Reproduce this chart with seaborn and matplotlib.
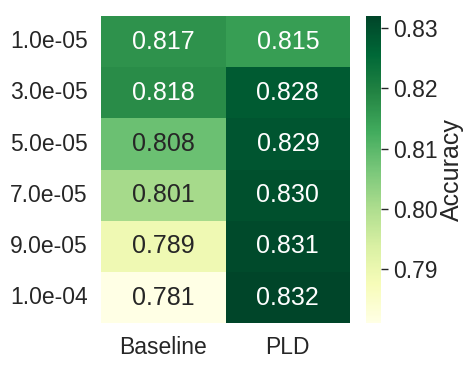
import numpy as np
import pandas as pd
import matplotlib
matplotlib.use("Agg")
import matplotlib.pyplot as plt
import seaborn as sns

learning_rates = ["1.0e-05", "3.0e-05", "5.0e-05", "7.0e-05", "9.0e-05", "1.0e-04"]
methods = ["Baseline", "PLD"]
baseline = [0.817, 0.818, 0.808, 0.801, 0.789, 0.781]
pld = [0.815, 0.828, 0.829, 0.830, 0.831, 0.832]

df = pd.DataFrame({"Baseline": baseline, "PLD": pld}, index=learning_rates)

sns.set_theme(style="white", font_scale=1.5)
plt.rcParams['font.family'] = ['Liberation Sans', 'DejaVu Sans']

fig = plt.figure(figsize=(4.77, 3.66), dpi=100)
ax = fig.add_axes([0.212, 0.117, 0.522, 0.839])
cax = fig.add_axes([0.767, 0.117, 0.032, 0.839])
sns.heatmap(df, annot=True, fmt=".3f", cmap="YlGn", ax=ax, cbar_ax=cax,
            cbar_kws={"label": "Accuracy"})
ax.set_yticklabels(learning_rates, rotation=0)
cax.tick_params(right=True, length=5, width=1, pad=4, color=".15")
cax.yaxis.labelpad = 1
fig.savefig("out.png", dpi=100)
